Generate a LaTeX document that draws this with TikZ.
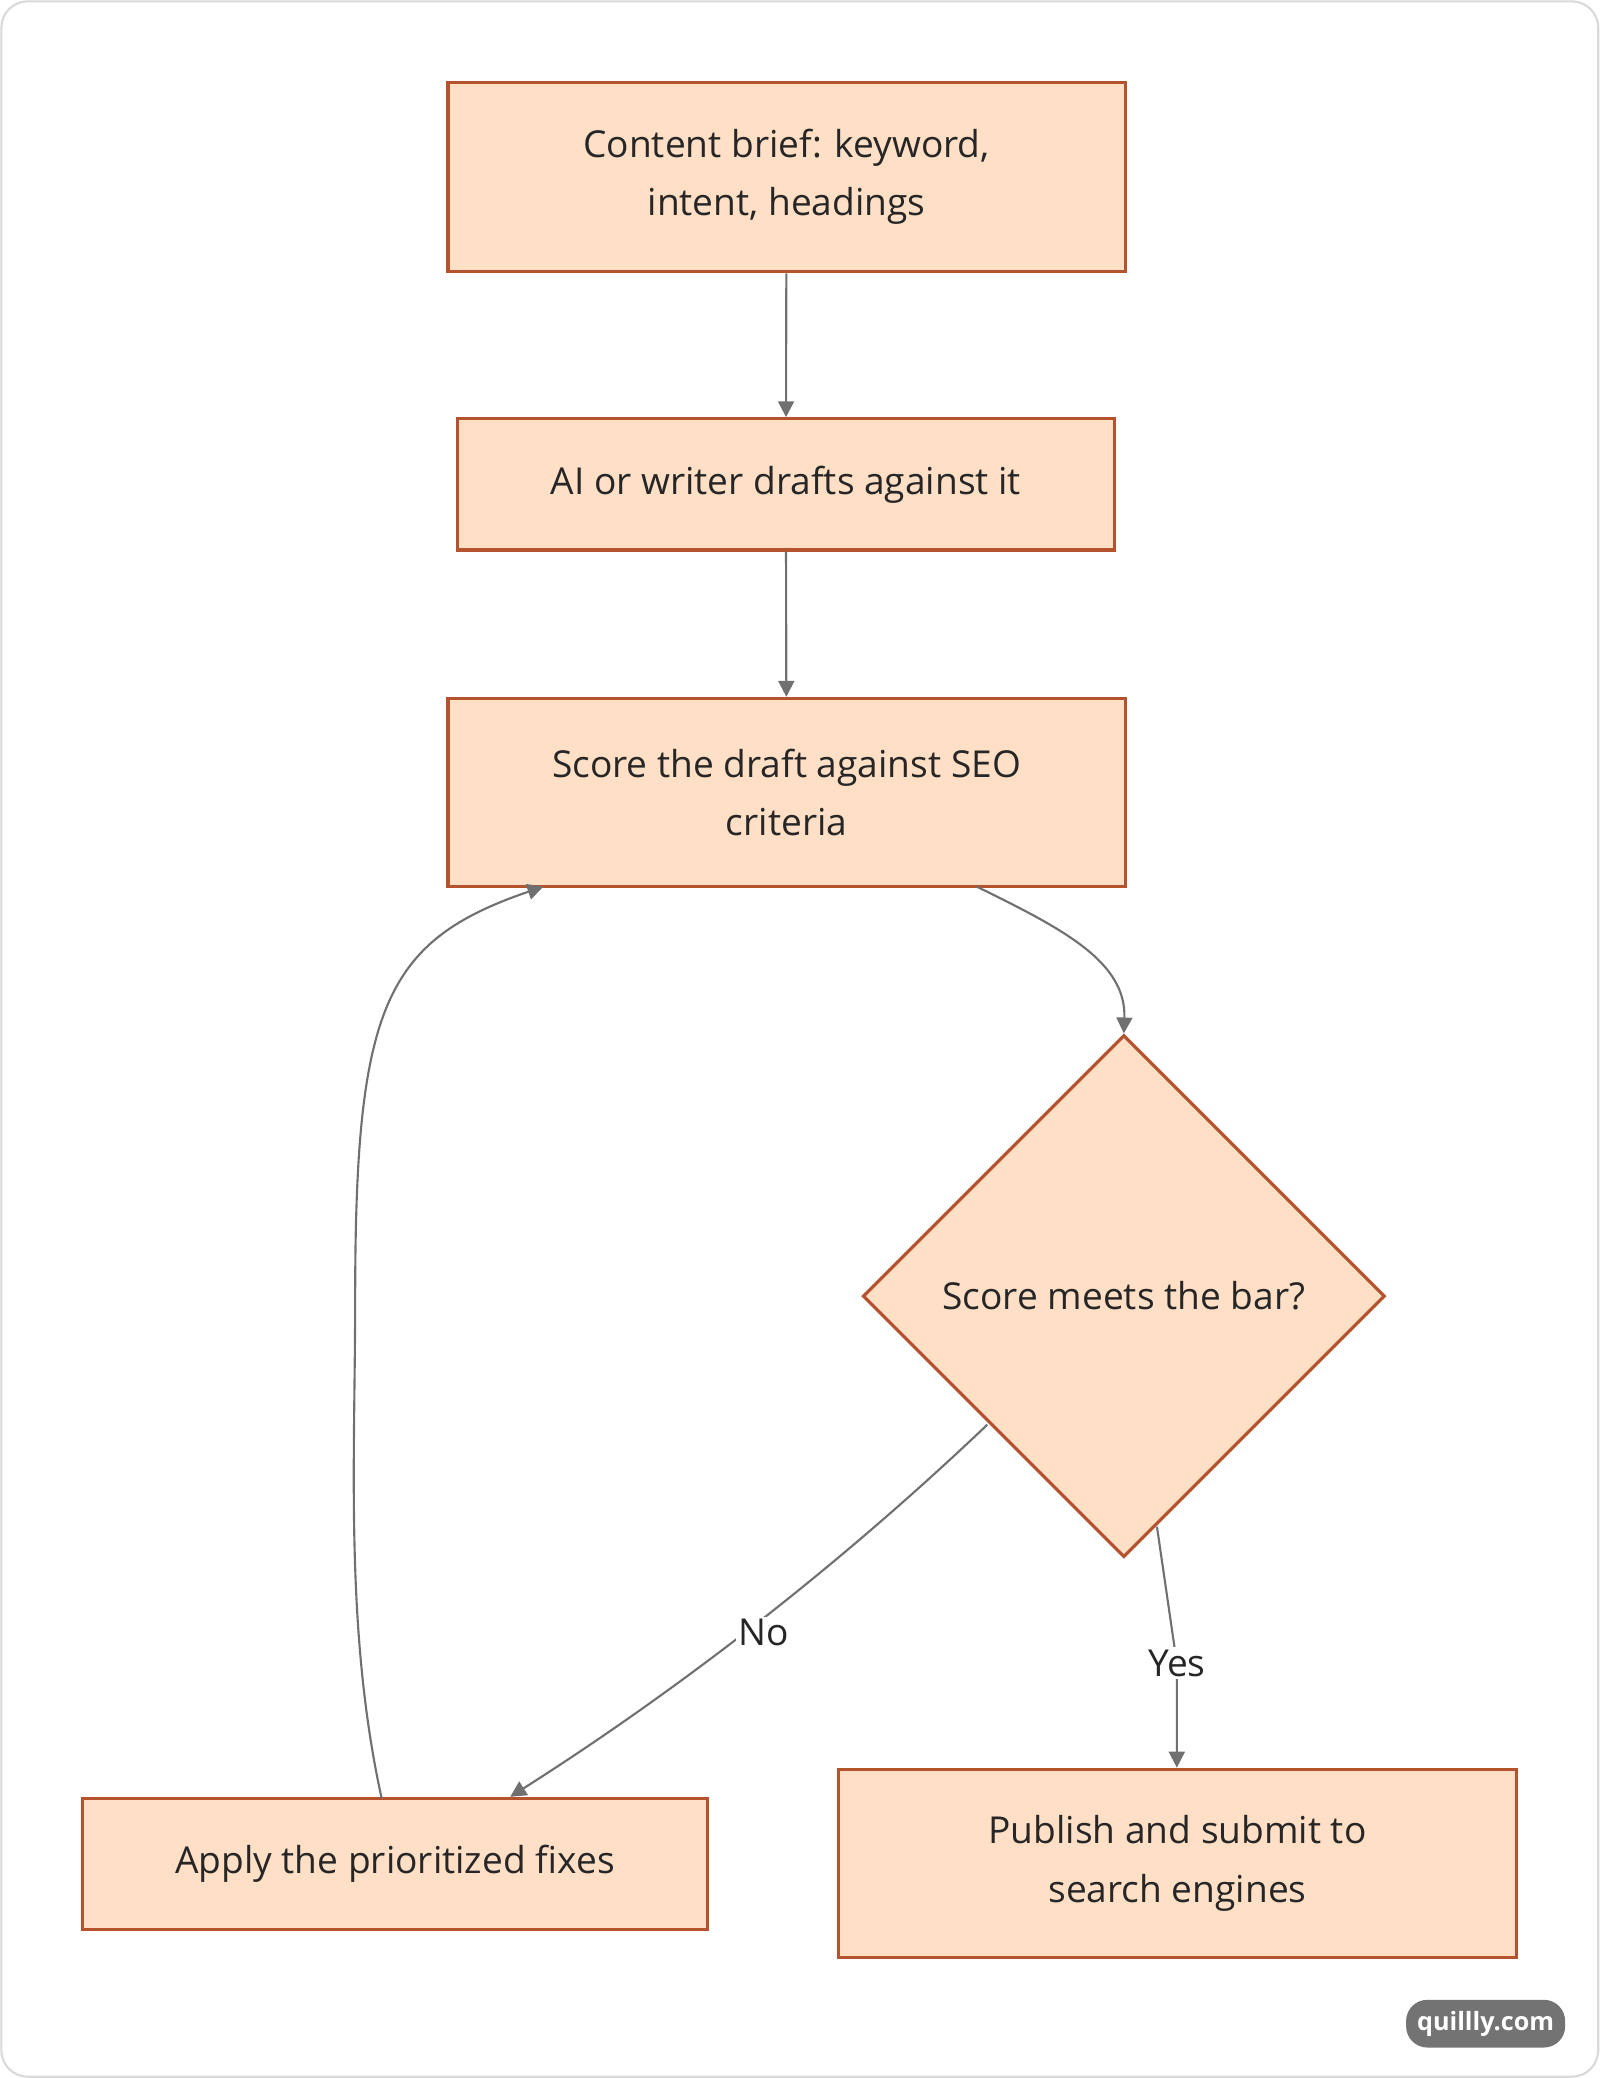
\documentclass[tikz,border=0pt]{standalone}
\usepackage{fontspec}
\setmainfont{Open Sans}
\usetikzlibrary{shapes.geometric,arrows.meta}
\definecolor{nfill}{HTML}{FFDFC5}
\definecolor{ndraw}{HTML}{B5532F}
\definecolor{edge}{HTML}{707070}
\begin{document}
\begin{tikzpicture}[x=0.5pt,y=-0.5pt,
 box/.style={draw=ndraw,fill=nfill,line width=1.2pt,inner sep=0pt,align=center,font=\fontsize{14}{22}\selectfont,text=black!85},
 dia/.style={diamond,draw=ndraw,fill=nfill,line width=1.2pt,inner sep=0pt,minimum width=197pt,minimum height=197pt,font=\fontsize{14}{22}\selectfont,text=black!85},
 arr/.style={draw=edge,line width=0.8pt,-{Triangle[length=6pt,width=6pt]}},
 lab/.style={fill=white,inner sep=1pt,font=\fontsize{14}{18}\selectfont,text=black!85}]
\useasboundingbox (0,0) rectangle (1207,1568);
\draw[black!15,line width=0.8pt,rounded corners=10pt] (1,1) rectangle (1206,1567);
\node[box,minimum width=255.5pt,minimum height=71.5pt] (a) at (593.5,133.5) {Content brief: keyword,\\intent, headings};
\node[box,minimum width=248pt,minimum height=49.5pt] (b) at (593,365.5) {AI or writer drafts against it};
\node[box,minimum width=255.5pt,minimum height=71pt] (c) at (593.5,598) {Score the draft against SEO\\criteria};
\node[dia] (d) at (848,978) {Score meets the bar?};
\node[box,minimum width=236pt,minimum height=49.5pt] (e) at (298,1406.5) {Apply the prioritized fixes};
\node[box,minimum width=255.5pt,minimum height=71pt] (f) at (888.5,1406) {Publish and submit to\\search engines};
\draw[arr] (a) -- (b);
\draw[arr] (b) -- (c);
\draw[arr] (737,669) .. controls (800,700) and (850,725) .. (d.north);
\draw[arr] (745,1075) .. controls (640,1175) and (520,1270) .. (e.north -| 385,0);
\node[lab] at (576,1232) {No};
\draw[arr] (873,1152) -- (888,1255) -- (f.north -| 888,0);
\node[lab] at (888,1255) {Yes};
\draw[arr] (288,1357) .. controls (260,1230) and (268,1100) .. (268,980) .. controls (268,760) and (290,710) .. (410,669);
\node[fill=black!55,text=white,rounded corners=8pt,minimum width=60pt,minimum height=18pt,font=\fontsize{9.5}{11}\selectfont\bfseries] (w) at (1121,1527) {quillly.com};
\end{tikzpicture}
\end{document}
